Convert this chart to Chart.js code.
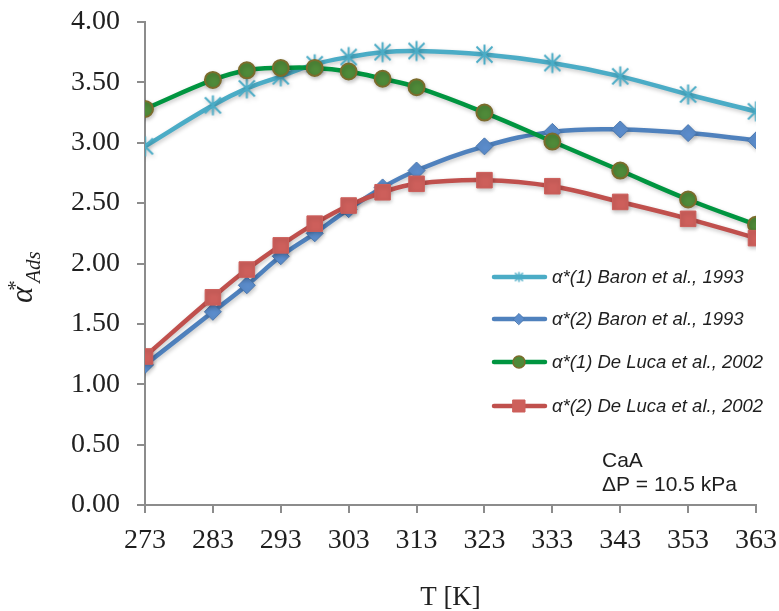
<!DOCTYPE html>
<html>
<head>
<meta charset="utf-8">
<script src="https://cdn.jsdelivr.net/npm/chart.js@4/dist/chart.umd.min.js"></script>
<style>
  html, body { margin: 0; padding: 0; background: #fff; }
  #wrap { width: 779px; height: 611px; }
</style>
</head>
<body>
<div id="wrap"><canvas id="mainChart" width="779" height="611"></canvas></div>
<script>
// values
const temps = [273, 283, 288, 293, 298, 303, 308, 313, 323, 333, 343, 353, 363];
const xTicks = [273, 283, 293, 303, 313, 323, 333, 343, 353, 363];
const baron1 = [2.97, 3.31, 3.45, 3.55, 3.65, 3.71, 3.75, 3.76, 3.73, 3.66, 3.55, 3.40, 3.26];
const baron2 = [1.16, 1.60, 1.82, 2.06, 2.25, 2.45, 2.63, 2.77, 2.97, 3.09, 3.11, 3.08, 3.02];
const deLuca1 = [3.28, 3.52, 3.60, 3.62, 3.62, 3.59, 3.53, 3.46, 3.25, 3.01, 2.77, 2.53, 2.32];
const deLuca2 = [1.23, 1.72, 1.95, 2.15, 2.33, 2.48, 2.59, 2.66, 2.69, 2.64, 2.51, 2.37, 2.21];
const seriesLabels = [
  'α*(1) Baron et al., 1993',
  'α*(2) Baron et al., 1993',
  'α*(1) De Luca et al., 2002',
  'α*(2) De Luca et al., 2002'
];
const noteLines = ['CaA', 'ΔP = 10.5 kPa'];

const AXIS = '#8c8c8c';
const TXT = '#1f1f1f';

// excel style asterisk marker (X plus vertical bar)
function asterisk(size, color, lw) {
  const c = document.createElement('canvas');
  c.width = size; c.height = size;
  const g = c.getContext('2d');
  const m = size / 2, r = size / 2 - 1.5;
  g.strokeStyle = color; g.lineWidth = lw; g.lineCap = 'butt';
  g.beginPath();
  g.moveTo(m, m - r); g.lineTo(m, m + r);
  const d = r * 0.8;
  g.moveTo(m - d, m - d); g.lineTo(m + d, m + d);
  g.moveTo(m + d, m - d); g.lineTo(m - d, m + d);
  g.stroke();
  return c;
}
const starBig = asterisk(23, '#4bacc6', 2);
const starSmall = asterisk(13, '#4bacc6', 1.6);

const pts = arr => arr.map((v, i) => ({ x: temps[i], y: v }));

const datasets = [
  { label: seriesLabels[0], data: pts(baron1), borderColor: '#4bacc6', pointStyle: starBig,
    pointBackgroundColor: '#4bacc6', pointBorderColor: '#4bacc6', pointRadius: 9, order: 4 },
  { label: seriesLabels[1], data: pts(baron2), borderColor: '#4f81bd', pointStyle: 'rectRot',
    pointBackgroundColor: '#5b8ccb', pointBorderColor: '#4a78b0', pointBorderWidth: 1, pointRadius: 8.5, order: 3 },
  { label: seriesLabels[2], data: pts(deLuca1), borderColor: '#009540', pointStyle: 'circle',
    pointBackgroundColor: '#4f8a39', pointBorderColor: '#7b6c2c', pointBorderWidth: 2, pointRadius: 8, order: 2 },
  { label: seriesLabels[3], data: pts(deLuca2), borderColor: '#c0504d', pointStyle: 'rect',
    pointBackgroundColor: '#cd5f5b', pointBorderColor: '#cd5f5b', pointBorderWidth: 1, pointRadius: 11, order: 1 }
];
datasets.forEach(d => { d.borderWidth = 4.5; d.tension = 0.4; d.fill = false; });

const legendStyle = [
  { img: starSmall },
  { pointStyle: 'rectRot', radius: 5.5, fill: '#5b8ccb', stroke: '#4a78b0', bw: 1 },
  { pointStyle: 'circle', radius: 6, fill: '#4f8a39', stroke: '#7b6c2c', bw: 1.5 },
  { pointStyle: 'rect', radius: 8.5, fill: '#cd5f5b', stroke: '#cd5f5b', bw: 1 }
];

const shadowPlugin = {
  id: 'shadow',
  beforeDatasetsDraw(chart) {
    const ctx = chart.ctx;
    ctx.save();
    ctx.shadowColor = 'rgba(0,0,0,0.22)';
    ctx.shadowBlur = 4;
    ctx.shadowOffsetX = 1;
    ctx.shadowOffsetY = 2;
  },
  afterDatasetsDraw(chart) { chart.ctx.restore(); }
};

const textPlugin = {
  id: 'texts',
  afterDraw(chart) {
    const ctx = chart.ctx;
    const area = chart.chartArea;
    ctx.save();
    ctx.fillStyle = TXT;

    // x title
    ctx.font = '27px "Liberation Serif", serif';
    ctx.textAlign = 'center';
    ctx.textBaseline = 'alphabetic';
    ctx.fillText('T [K]', (area.left + area.right) / 2, 605);

    // y title: alpha*_Ads
    ctx.save();
    ctx.translate(32, 303);
    ctx.rotate(-Math.PI / 2);
    ctx.textAlign = 'left';
    ctx.font = 'italic 31px "Liberation Serif", serif';
    ctx.fillText('α', 0, 0);
    const w = ctx.measureText('α').width;
    ctx.font = '21px "Liberation Serif", serif';
    ctx.fillText('*', w - 4, -10);
    ctx.font = 'italic 21px "Liberation Serif", serif';
    ctx.fillText('Ads', w + 4, 8);
    ctx.restore();

    // legend
    const rowY = [277, 319, 362, 406];
    chart.data.datasets.forEach((ds, i) => {
      const y = rowY[i];
      ctx.save();
      ctx.strokeStyle = ds.borderColor;
      ctx.lineWidth = 4.5;
      ctx.lineCap = 'round';
      ctx.beginPath();
      ctx.moveTo(494, y); ctx.lineTo(545, y);
      ctx.stroke();
      const st = legendStyle[i];
      if (st.img) {
        ctx.drawImage(st.img, 519 - st.img.width / 2, y - st.img.height / 2);
      } else {
        ctx.fillStyle = st.fill;
        ctx.strokeStyle = st.stroke;
        ctx.lineWidth = st.bw;
        Chart.helpers.drawPoint(ctx, { pointStyle: st.pointStyle, radius: st.radius, borderWidth: st.bw, rotation: 0 }, 519, y);
      }
      ctx.restore();
      ctx.fillStyle = TXT;
      ctx.font = 'italic 18.5px "Liberation Sans", Arial, sans-serif';
      ctx.textAlign = 'left';
      ctx.textBaseline = 'middle';
      ctx.fillText(ds.label, 552, y + 1);
    });

    // annotation
    ctx.font = '21px "Liberation Sans", Arial, sans-serif';
    ctx.textBaseline = 'middle';
    ctx.fillText(noteLines[0], 602, 461);
    ctx.fillText(noteLines[1], 602, 485);
    ctx.restore();
  }
};

new Chart(document.getElementById('mainChart').getContext('2d'), {
  type: 'line',
  data: { datasets },
  options: {
    responsive: false,
    animation: false,
    layout: { padding: { top: 22, right: 23, left: 0, bottom: 0 } },
    plugins: { legend: { display: false }, tooltip: { enabled: false } },
    scales: {
      x: {
        type: 'linear', min: 273, max: 363,
        afterBuildTicks: s => { s.ticks = xTicks.map(v => ({ value: v })); },
        afterFit: s => { s.height = 106; s.paddingLeft = 0; s.paddingRight = 0; },
        grid: { drawOnChartArea: false, tickLength: 8, color: AXIS, lineWidth: 2 },
        border: { color: AXIS, width: 2 },
        ticks: { color: TXT, padding: 11, maxRotation: 0, autoSkip: false,
                 font: { family: '"Liberation Serif", serif', size: 28 } }
      },
      y: {
        min: 0, max: 4,
        afterFit: s => { s.width = 145; s.paddingTop = 0; s.paddingBottom = 0; },
        grid: { drawOnChartArea: false, tickLength: 8, color: AXIS, lineWidth: 2 },
        border: { color: AXIS, width: 2 },
        ticks: { stepSize: 0.5, color: TXT, padding: 17, callback: v => v.toFixed(2),
                 font: { family: '"Liberation Serif", serif', size: 28 } }
      }
    }
  },
  plugins: [shadowPlugin, textPlugin]
});
</script>
</body>
</html>
